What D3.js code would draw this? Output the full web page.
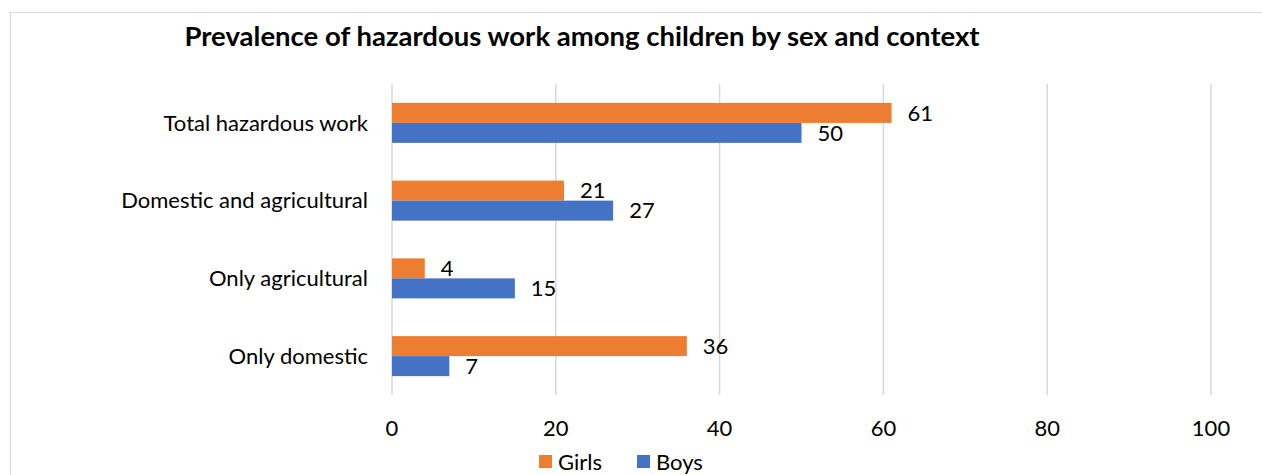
<!DOCTYPE html>
<meta charset="utf-8">
<script src="https://d3js.org/d3.v7.min.js"></script>
<style>
  body { margin: 0; background: #fff; }
  text { font-family: Lato, "Open Sans", sans-serif; fill: #000; }
</style>
<body>
<svg width="1262" height="475"></svg>
<script>
// chart data
var categories = ['Total hazardous work', 'Domestic and agricultural', 'Only agricultural', 'Only domestic'];
var seriesNames = ['Girls', 'Boys'];
var girls = [61, 21, 4, 36];
var boys = [50, 27, 15, 7];
var xTicks = [0, 20, 40, 60, 80, 100];
var colors = { Girls: '#ED7D31', Boys: '#4472C4' };

var svg = d3.select('svg');
var plotL = 392, plotR = 1211, plotT = 84, plotB = 395;
var fs = 22;

// outer frame
svg.append('rect')
    .attr('x', 10.5).attr('y', 12.5)
    .attr('width', 1262).attr('height', 480)
    .attr('fill', 'none').attr('stroke', '#d9d9d9');

svg.append('text')
    .attr('x', 582).attr('y', 46)
    .attr('text-anchor', 'middle')
    .attr('font-size', 27.5).attr('font-weight', 'bold')
    .text('Prevalence of hazardous work among children by sex and context');

var x = d3.scaleLinear().domain([0, 100]).range([plotL, plotR]);
var y = d3.scaleBand().domain(categories).range([plotT, plotB]);
var inner = d3.scaleBand().domain(seriesNames).range([-20, 20]);

// gridlines
svg.append('g').selectAll('line').data(xTicks).enter().append('line')
    .attr('x1', function(d){ return x(d); })
    .attr('x2', function(d){ return x(d); })
    .attr('y1', plotT).attr('y2', plotB)
    .attr('stroke', '#d9d9d9').attr('stroke-width', 1.5);

// tick labels
svg.append('g').selectAll('text').data(xTicks).enter().append('text')
    .attr('x', function(d){ return x(d); })
    .attr('y', 428).attr('dy', '0.35em')
    .attr('text-anchor', 'middle').attr('font-size', fs)
    .text(function(d){ return d; });

// category labels
svg.append('g').selectAll('text').data(categories).enter().append('text')
    .attr('x', 368)
    .attr('y', function(d){ return y(d) + y.bandwidth() / 2; })
    .attr('dy', '0.35em')
    .attr('text-anchor', 'end').attr('font-size', fs)
    .text(function(d){ return d; });

var rows = [];
categories.forEach(function(c, i){
    rows.push({ cat: c, s: 'Girls', v: girls[i] });
    rows.push({ cat: c, s: 'Boys', v: boys[i] });
});

var mid = function(d){ return y(d.cat) + y.bandwidth() / 2; };

svg.append('g').selectAll('rect').data(rows).enter().append('rect')
    .attr('x', x(0))
    .attr('y', function(d){ return mid(d) + inner(d.s); })
    .attr('width', function(d){ return x(d.v) - x(0); })
    .attr('height', inner.bandwidth())
    .attr('fill', function(d){ return colors[d.s]; });

svg.append('g').selectAll('text').data(rows).enter().append('text')
    .attr('x', function(d){ return x(d.v) + 16; })
    .attr('y', function(d){ return mid(d) + inner(d.s) + inner.bandwidth() / 2; })
    .attr('dy', '0.35em')
    .attr('font-size', fs)
    .text(function(d){ return d.v; });

// legend
var legX = [539, 637];
seriesNames.forEach(function(s, i){
    svg.append('rect')
        .attr('x', legX[i]).attr('y', 455)
        .attr('width', 13).attr('height', 13)
        .attr('fill', colors[s]);
    svg.append('text')
        .attr('x', legX[i] + 19).attr('y', 462).attr('dy', '0.35em')
        .attr('font-size', fs)
        .text(s);
});
</script>
</body>
